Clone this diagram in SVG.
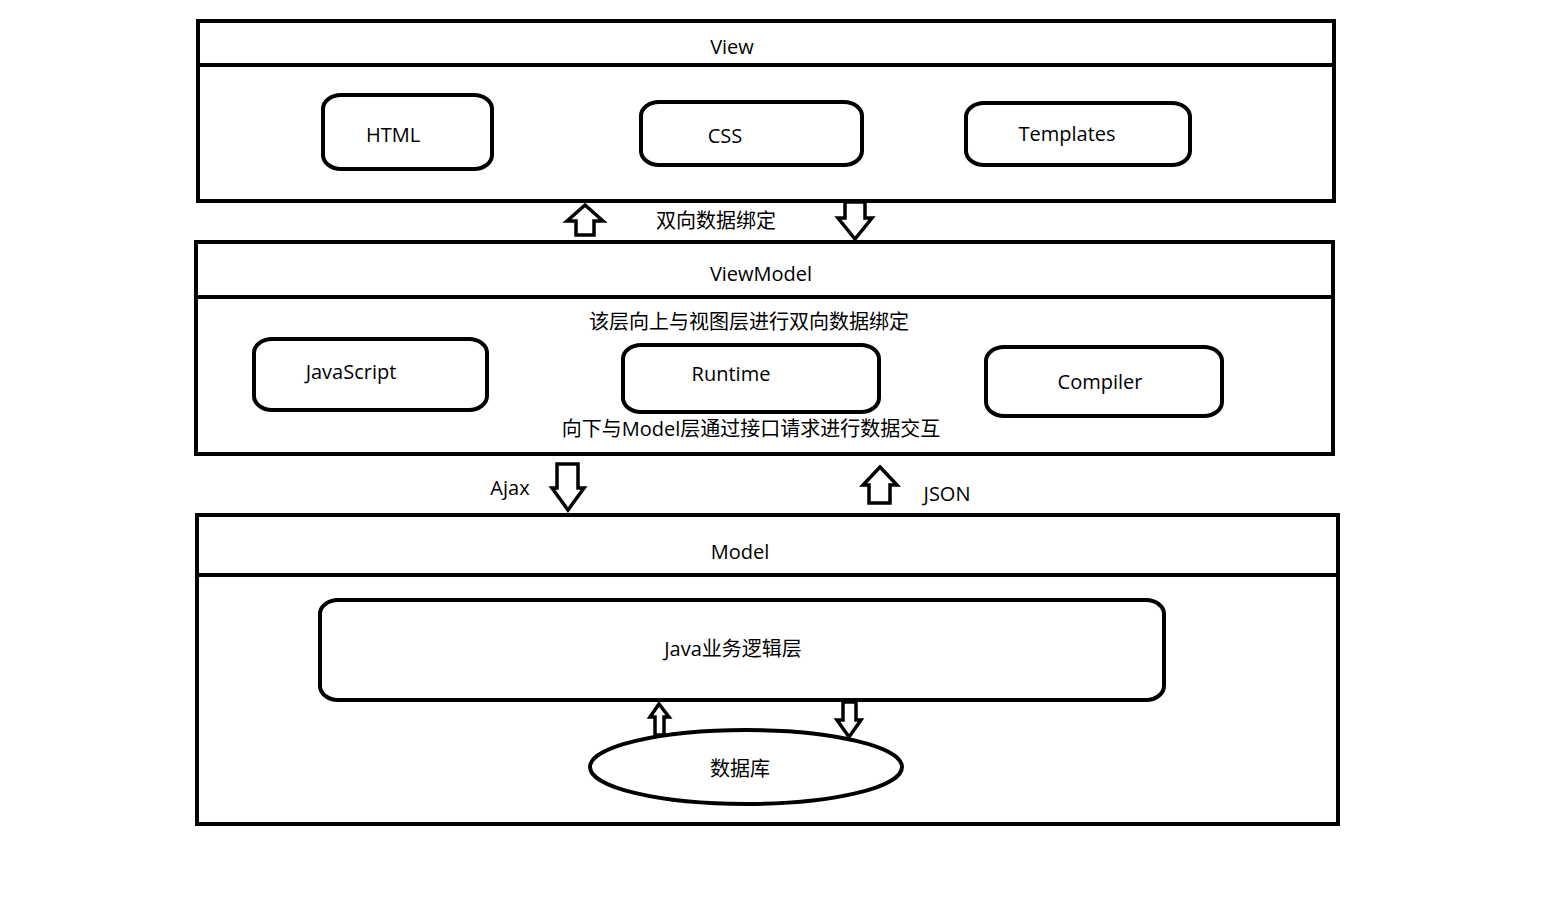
<svg xmlns="http://www.w3.org/2000/svg" width="1568" height="919" viewBox="0 0 1568 919">
<style>
.frame{fill:none;stroke:#000;stroke-width:4}
.box{fill:#fff;stroke:#000;stroke-width:4}
.arr{fill:#fff;stroke:#000;stroke-width:3.5;stroke-linejoin:miter}
.t{font-family:"Open Sans","Noto Sans CJK SC",sans-serif;font-size:20px;fill:#000;text-anchor:middle;dominant-baseline:central}
</style>
<rect width="1568" height="919" fill="#fff"/>
<g id="view">
<rect class="frame" x="198" y="21" width="1136" height="180"/>
<line class="frame" x1="198" y1="65" x2="1336" y2="65"/>
<text class="t" x="732" y="46">View</text>
</g>
<g id="html"><rect class="box" x="323" y="95" width="169" height="74" rx="18" ry="14"/><text class="t" x="393" y="134">HTML</text></g>
<g id="css"><rect class="box" x="641" y="102" width="221" height="63" rx="18" ry="14"/><text class="t" x="725" y="135">CSS</text></g>
<g id="templates"><rect class="box" x="966" y="103" width="224" height="62" rx="18" ry="14"/><text class="t" x="1067" y="133">Templates</text></g>

<g id="viewmodel">
<rect class="frame" x="196" y="242" width="1137" height="212"/>
<line class="frame" x1="196" y1="297" x2="1335" y2="297"/>
<text class="t" x="761" y="273">ViewModel</text>
<text class="t" x="749" y="321">该层向上与视图层进行双向数据绑定</text>
<text class="t" x="751" y="428">向下与Model层通过接口请求进行数据交互</text>
</g>
<g id="javascript"><rect class="box" x="254" y="339" width="233" height="71" rx="18" ry="14"/><text class="t" x="351" y="371">JavaScript</text></g>
<g id="runtime"><rect class="box" x="623" y="345" width="256" height="67" rx="18" ry="14"/><text class="t" x="731" y="373">Runtime</text></g>
<g id="compiler"><rect class="box" x="986" y="347" width="236" height="69" rx="18" ry="14"/><text class="t" x="1100" y="381">Compiler</text></g>

<g id="model">
<rect class="frame" x="197" y="515" width="1141" height="309"/>
<line class="frame" x1="197" y1="575" x2="1338" y2="575"/>
<text class="t" x="740" y="551">Model</text>
</g>
<g id="java"><rect class="box" x="320" y="600" width="844" height="100" rx="18" ry="14"/><text class="t" x="733" y="648">Java业务逻辑层</text></g>
<g id="db"><ellipse class="box" cx="746" cy="767" rx="156" ry="37"/><text class="t" x="740" y="768">数据库</text></g>

<g id="connectors">
<polygon class="arr" points="585,205 603,221 594,221 594,235 576,235 576,221 567,221"/>
<polygon class="arr" points="845,202 865,202 865,218 872,218 855,239 838,218 845,218"/>
<text class="t" x="716" y="220">双向数据绑定</text>
<polygon class="arr" points="557,464 578,464 578,488 584,488 568,510 552,488 557,488"/>
<text class="t" x="510" y="487">Ajax</text>
<polygon class="arr" points="880,467 897,485 890,485 890,503 869,503 869,485 863,485"/>
<text class="t" x="947" y="493">JSON</text>
<polygon class="arr" points="659,704 669,717 664,717 664,735 655,735 655,717 650,717"/>
<polygon class="arr" points="843,702 856,702 856,720 861,720 849,737 837,720 843,720"/>
</g>
</svg>
